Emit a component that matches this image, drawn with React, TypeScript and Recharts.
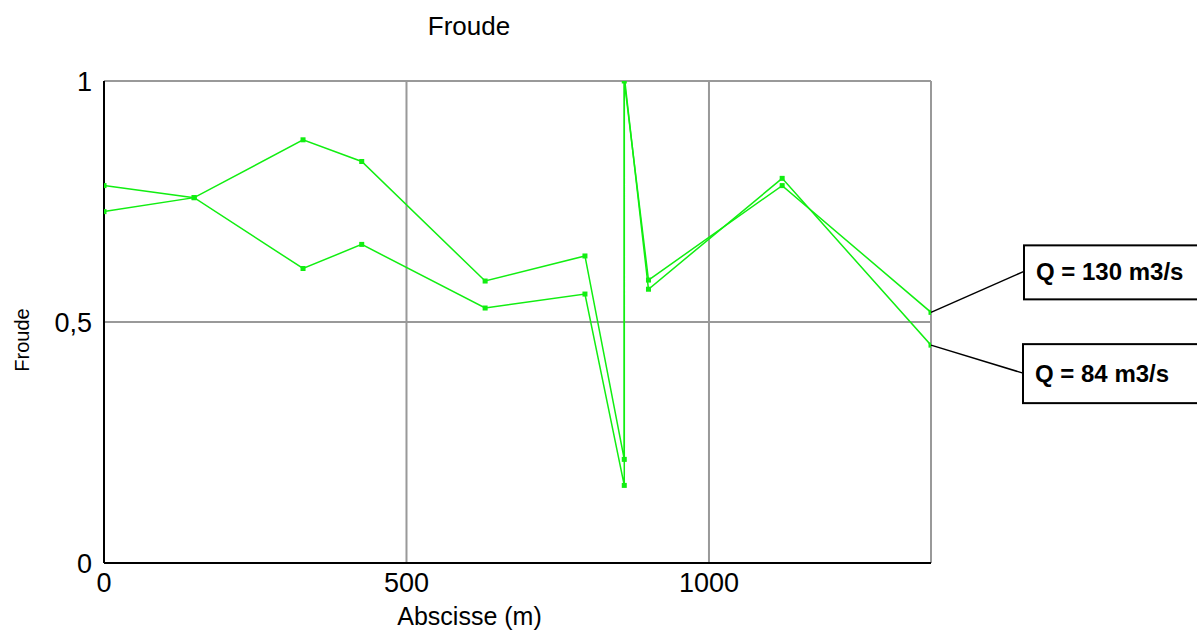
import { CartesianGrid, Line, LineChart, ReferenceLine, XAxis, YAxis } from "recharts";

// abscissa (m) of each section
const ABSCISSE = [0, 149, 329, 426, 630, 795, 860, 860, 900, 1121, 1367];
const FROUDE_130 = [0.729, 0.758, 0.878, 0.833, 0.585, 0.637, 0.215, 1.0, 0.587, 0.783, 0.52];
const FROUDE_84 = [0.783, 0.758, 0.611, 0.661, 0.529, 0.558, 0.161, 1.01, 0.568, 0.798, 0.452];
const X_TICKS = [0, 500, 1000];
const Y_TICKS = [0, 0.5, 1];
const SERIES = [
  { name: "Q = 130 m3/s", values: FROUDE_130, box: { dx: 93, top: -67, h: 54, lead: -41 } },
  { name: "Q = 84 m3/s", values: FROUDE_84, box: { dx: 92, top: -1, h: 59, lead: 28 } },
];

const GREEN = "#11ee11";
const FONT = "'Liberation Sans', Arial, sans-serif";

const squareDot = (p: any) => (
  <rect key={`d${p.index}`} x={p.cx - 2.5} y={p.cy - 2.5} width={5} height={5} fill={GREEN} />
);

function boxLabel(name: string, box: { dx: number; top: number; h: number; lead: number }, last: number) {
  return (p: any) => {
    if (p.index !== last) return null;
    const bx = p.x + box.dx;
    return (
      <g key="box">
        <line x1={p.x} y1={p.y} x2={bx} y2={p.y + box.lead} stroke="#000" strokeWidth={1.5} />
        <rect x={bx} y={p.y + box.top} width={200} height={box.h} fill="#fff" stroke="#000" strokeWidth={2} />
        <text
          x={bx + 12}
          y={p.y + box.top + box.h / 2 + 8}
          fontFamily={FONT}
          fontWeight="bold"
          fontSize={24}
          fill="#000"
        >
          {name}
        </text>
      </g>
    );
  };
}

export default function App() {
  return (
    <div style={{ position: "absolute", left: 0, top: 0, width: 1197, height: 633, background: "#fff", fontFamily: FONT }}>
      <div style={{ position: "absolute", left: 0, width: 938, top: 11, textAlign: "center", fontSize: 26 }}>Froude</div>
      <LineChart width={1197} height={633} margin={{ top: 81, right: 266, bottom: 40, left: 44 }}>
        <CartesianGrid stroke="#999" strokeWidth={2} />
        <ReferenceLine x={1367} stroke="#999" strokeWidth={2} />
        <XAxis
          type="number"
          dataKey="x"
          domain={[0, 1367]}
          ticks={X_TICKS}
          allowDataOverflow
          height={30}
          axisLine={{ stroke: "#000", strokeWidth: 2 }}
          tickLine={false}
          tick={{ fill: "#000", fontSize: 27, fontFamily: FONT }}
          tickMargin={4}
          label={{ value: "Abscisse (m)", position: "bottom", offset: 14, dx: -48, fill: "#000", fontSize: 25, fontFamily: FONT }}
        />
        <YAxis
          type="number"
          dataKey="y"
          domain={[0, 1]}
          ticks={Y_TICKS}
          allowDataOverflow
          width={60}
          axisLine={{ stroke: "#000", strokeWidth: 2 }}
          tickLine={false}
          tickMargin={6}
          tick={{ fill: "#000", fontSize: 27, fontFamily: FONT }}
          tickFormatter={(v: number) => (v === 0.5 ? "0,5" : String(v))}
          label={{
            content: ({ viewBox }: any) => (
              <text
                x={viewBox.x - 22}
                y={viewBox.y + viewBox.height / 2 + 18}
                transform={`rotate(-90, ${viewBox.x - 22}, ${viewBox.y + viewBox.height / 2 + 18})`}
                textAnchor="middle"
                dominantBaseline="central"
                fontSize={20}
                fontFamily={FONT}
                fill="#000"
              >
                Froude
              </text>
            ),
          }}
        />
        {SERIES.map((s) => (
          <Line
            key={s.name}
            data={ABSCISSE.map((x, i) => ({ x, y: s.values[i] }))}
            dataKey="y"
            type="linear"
            stroke={GREEN}
            strokeWidth={1.5}
            dot={squareDot}
            activeDot={false}
            isAnimationActive={false}
            label={boxLabel(s.name, s.box, ABSCISSE.length - 1)}
          />
        ))}
      </LineChart>
    </div>
  );
}
